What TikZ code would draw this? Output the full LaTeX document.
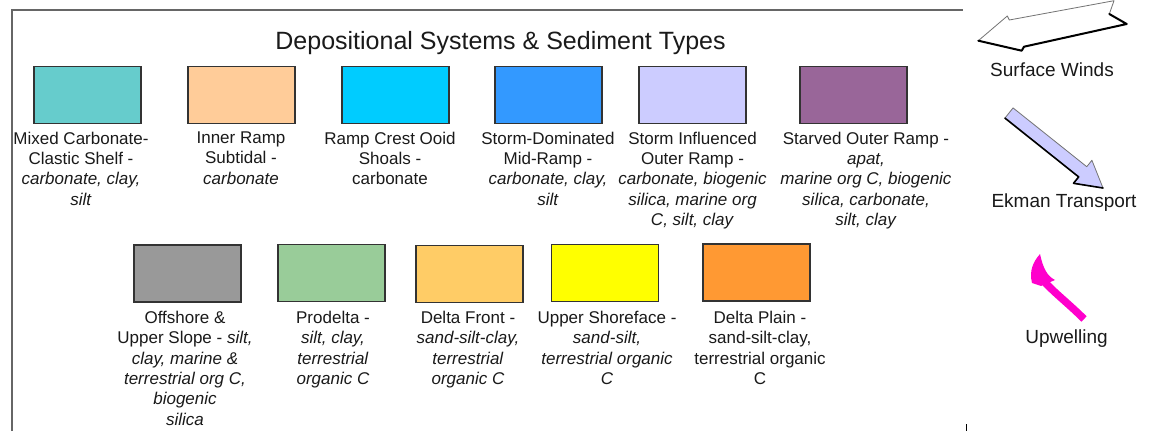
\documentclass[tikz,border=0pt]{standalone}
\usepackage{fontspec}
\setmainfont{Liberation Sans}
\definecolor{cTeal}{HTML}{66CCCC}
\definecolor{cPeach}{HTML}{FFCC99}
\definecolor{cCyan}{HTML}{00CCFF}
\definecolor{cBlue}{HTML}{3399FF}
\definecolor{cLav}{HTML}{CCCCFF}
\definecolor{cPurple}{HTML}{996699}
\definecolor{cGray}{HTML}{999999}
\definecolor{cGreen}{HTML}{99CC99}
\definecolor{cLOrange}{HTML}{FFCC66}
\definecolor{cYellow}{HTML}{FFFF00}
\definecolor{cOrange}{HTML}{FF9933}
\definecolor{cMagenta}{HTML}{FF00CC}
\definecolor{cText}{HTML}{1A1A1A}
\begin{document}
\begin{tikzpicture}[x=1pt,y=-1pt,
  swatch/.style={draw=black!80, line width=1.3pt, minimum width=107pt, minimum height=57pt, inner sep=0pt},
  lbl/.style={anchor=north, inner sep=0pt, align=center, font=\fontsize{17}{20.3}\selectfont, text=cText},
  side/.style={anchor=base, inner sep=0pt, font=\fontsize{19}{23}\selectfont, text=cText},
  frameline/.style={draw=black!60, line width=2pt},
  outline/.style={draw=black!55, line width=0.8pt, line join=round},
  shadowedge/.style={draw=black, line width=2pt, line join=round, line cap=round}]
\useasboundingbox (0,0) rectangle (1153,431);
\fill[white] (0,0) rectangle (1153,431);

% frame
\coordinate (fbl) at (12,431);
\coordinate (ftl) at (12,10);
\coordinate (ftr) at (962.5,10);
\draw[frameline] (fbl) -- (ftl) -- (ftr);
\coordinate (tka) at (966,424);
\coordinate (tkb) at (966,431);
\draw[black, line width=1pt] (tka) -- (tkb);

% title
\node[anchor=base, inner sep=0pt, font=\fontsize{25}{30}\selectfont, text=cText] (title) at (500.5,49.3) {Depositional Systems \& Sediment Types};

% row 1 swatches
\node[swatch, fill=cTeal]   (s1) at (87.5,95) {};
\node[swatch, fill=cPeach]  (s2) at (241.5,95) {};
\node[swatch, fill=cCyan]   (s3) at (395.5,95) {};
\node[swatch, fill=cBlue]   (s4) at (548.5,95) {};
\node[swatch, fill=cLav]    (s5) at (692.5,95) {};
\node[swatch, fill=cPurple] (s6) at (853.5,95) {};

% row 1 labels
\node[lbl] (l1) at (81,131.7) {Mixed Carbonate-\\Clastic Shelf -\\\textit{carbonate, clay,}\\\textit{silt}};
\node[lbl] (l2) at (241,131.7) {Inner Ramp\\Subtidal -\\\textit{carbonate}};
\node[lbl] (l3) at (390,131.7) {Ramp Crest Ooid\\Shoals -\\carbonate};
\node[lbl] (l4) at (548,131.7) {Storm-Dominated\\Mid-Ramp -\\\textit{carbonate, clay,}\\\textit{silt}};
\node[lbl] (l5) at (692.5,131.7) {Storm Influenced\\Outer Ramp -\\\textit{carbonate, biogenic}\\\textit{silica, marine org}\\\textit{C, silt, clay}};
\node[lbl] (l6) at (866,131.7) {Starved Outer Ramp -\\\textit{apat,}\\\textit{marine org C, biogenic}\\\textit{silica, carbonate,}\\\textit{silt, clay}};

% row 2 swatches
\node[swatch, fill=cGray]    (s7)  at (187.5,273.5) {};
\node[swatch, fill=cGreen]   (s8)  at (331.5,273) {};
\node[swatch, fill=cLOrange] (s9)  at (469.5,274) {};
\node[swatch, fill=cYellow]  (s10) at (605,273) {};
\node[swatch, fill=cOrange]  (s11) at (756.5,272.5) {};

% row 2 labels
\node[lbl] (l7)  at (185,311) {Offshore \&\\Upper Slope - \textit{silt,}\\\textit{clay, marine \&}\\\textit{terrestrial org C,}\\\textit{biogenic}\\\textit{silica}};
\node[lbl] (l8)  at (333,311) {Prodelta -\\\textit{silt, clay,}\\\textit{terrestrial}\\\textit{organic C}};
\node[lbl] (l9)  at (468,311) {Delta Front -\\\textit{sand-silt-clay,}\\\textit{terrestrial}\\\textit{organic C}};
\node[lbl] (l10) at (607,311) {Upper Shoreface -\\\textit{sand-silt,}\\\textit{terrestrial organic}\\\textit{C}};
\node[lbl] (l11) at (760,311) {Delta Plain -\\sand-silt-clay,\\terrestrial organic\\C};

% Surface winds arrow
\filldraw[fill=white, outline] (978.3,40.7) -- (1007.3,16) -- (1009.3,20) -- (1114,0.7) -- (1109.3,14) -- (1126.7,24) -- (1024,46.7) -- (1021.7,50.7) -- cycle;
\draw[shadowedge] (978.3,40.7) -- (1021.7,50.7) -- (1024,46.7) -- (1126.7,24) -- (1109.3,14);
\node[side] (sw) at (1052,76) {Surface Winds};

% Ekman transport arrow
\filldraw[fill=cLav, outline] (1004.95,118.1) -- (1013.05,107.9) -- (1086.75,166.7) -- (1091.9,160.3) -- (1103,188) -- (1073.5,183.3) -- (1078.65,176.9) -- cycle;
\draw[shadowedge, line width=1.6pt] (1004.95,118.1) -- (1078.65,176.9) -- (1073.5,183.3) -- (1103,188);
\node[side] (ek) at (1064,207) {Ekman Transport};

% Upwelling arrow
\draw[cMagenta, line width=7.5pt] (1084,319) .. controls (1068,303) and (1052,291) .. (1042,279);
\fill[cMagenta] (1040,254) .. controls (1033,262) and (1029,271) .. (1032,283) -- (1041,286) -- (1055,280) .. controls (1047,276) and (1043,268) .. (1040,254) -- cycle;
\node[side] (up) at (1066.5,343) {Upwelling};
\end{tikzpicture}
\end{document}
